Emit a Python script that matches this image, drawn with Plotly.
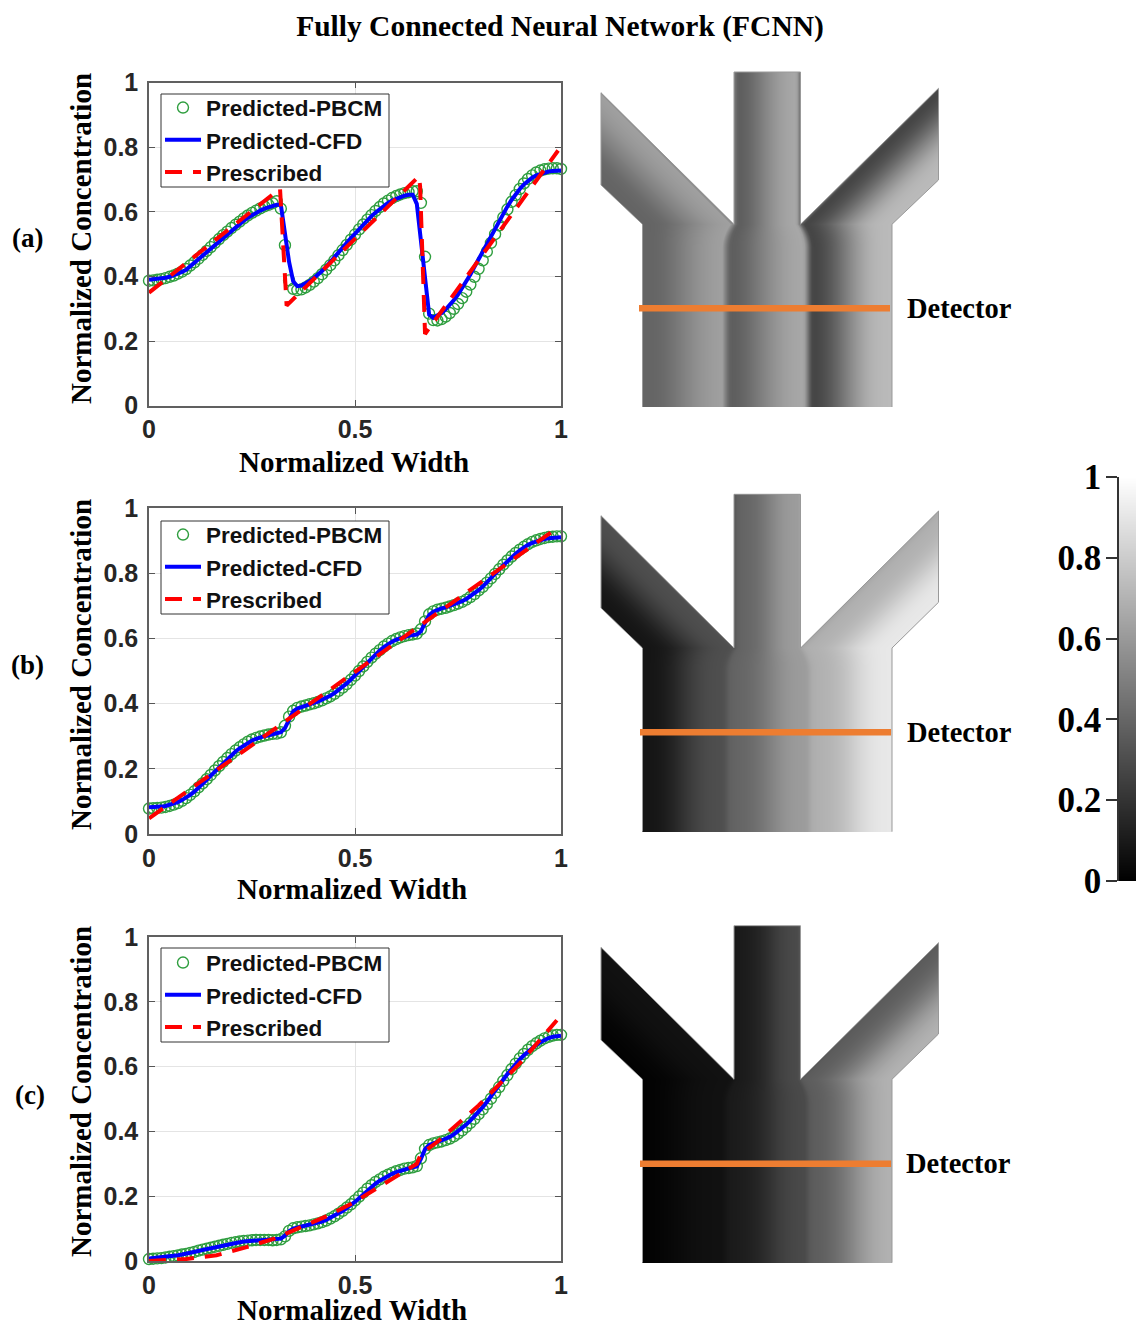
import numpy as np
import plotly.graph_objects as go

FIG_W, FIG_H = 1136, 1328
TITLE = "Fully Connected Neural Network (FCNN)"
PANEL_NAMES = ["(a)", "(b)", "(c)"]
SERIES_NAMES = ["Predicted-PBCM", "Predicted-CFD", "Prescribed"]
X_TITLE = "Normalized Width"
Y_TITLE = "Normalized Concentration"
Y_TICKS = [0, 0.2, 0.4, 0.6, 0.8, 1]
X_TICKS = [0, 0.5, 1]
CBAR_TICKS = [0, 0.2, 0.4, 0.6, 0.8, 1]

WIDTH = [i / 100 for i in range(101)]

CFD_A = [.390,.391,.392,.394,.396,.399,.403,.408,.414,.421,
         .432,.441,.451,.462,.473,.485,.497,.509,.521,.532,
         .543,.553,.563,.573,.582,.590,.597,.604,.610,.615,
         .619,.622,.622,.530,.445,.385,.370,.372,.378,.386,
         .395,.405,.417,.430,.444,.459,.474,.489,.504,.519,
         .533,.547,.561,.574,.587,.598,.609,.619,.628,.635,
         .641,.646,.650,.653,.653,.625,.510,.375,.282,.272,
         .278,.287,.298,.311,.327,.344,.363,.384,.406,.430,
         .454,.478,.503,.527,.551,.574,.596,.617,.637,.655,
         .671,.685,.697,.706,.713,.718,.722,.725,.727,.728,.728]
PBCM_A = [.387,.388,.390,.392,.395,.399,.403,.409,.415,.423,
          .434,.444,.455,.467,.479,.491,.504,.516,.528,.539,
          .550,.560,.570,.580,.589,.597,.604,.611,.617,.622,
          .627,.633,.610,.497,.388,.362,.358,.360,.366,.374,
          .384,.395,.407,.421,.435,.450,.466,.482,.498,.514,
          .530,.546,.561,.576,.590,.603,.615,.626,.635,.643,
          .649,.654,.658,.661,.664,.664,.628,.461,.285,.265,
          .264,.268,.276,.287,.300,.315,.333,.353,.375,.399,
          .424,.450,.477,.504,.531,.558,.583,.608,.631,.652,
          .671,.688,.702,.713,.722,.728,.732,.734,.735,.735,.733]
PRESC_X_A = [0, .318, .334, .655, .658, .670, .993]
PRESC_Y_A = [.35, .672, .31, .71, .68, .222, .79]

CFD_B = [.082,.082,.083,.084,.086,.089,.093,.098,.104,.111,
         .120,.130,.141,.153,.166,.179,.192,.205,.218,.230,
         .242,.253,.263,.272,.280,.287,.292,.297,.300,.303,
         .305,.307,.312,.325,.352,.376,.385,.390,.394,.398,
         .402,.406,.411,.417,.424,.432,.441,.451,.462,.474,
         .487,.500,.514,.527,.540,.552,.563,.573,.582,.590,
         .596,.601,.605,.608,.610,.612,.622,.648,.672,.682,
         .688,.692,.695,.699,.703,.708,.714,.721,.729,.738,
         .748,.759,.771,.784,.797,.811,.824,.837,.849,.860,
         .870,.879,.887,.893,.898,.902,.905,.907,.908,.909,.910]
PBCM_B = [.078,.079,.080,.081,.083,.086,.090,.095,.102,.110,
          .120,.131,.143,.155,.168,.181,.195,.208,.221,.233,
          .245,.256,.266,.275,.283,.290,.295,.299,.302,.305,
          .307,.308,.312,.332,.360,.378,.387,.391,.394,.398,
          .401,.405,.410,.416,.422,.430,.439,.449,.460,.473,
          .486,.500,.514,.528,.541,.553,.564,.575,.584,.592,
          .598,.603,.607,.610,.612,.615,.628,.652,.674,.683,
          .688,.691,.694,.698,.702,.707,.712,.719,.727,.736,
          .747,.758,.771,.784,.798,.812,.826,.839,.851,.862,
          .872,.881,.889,.896,.901,.905,.908,.911,.912,.913,.913]
PRESC_X_B = [0, .33, .66, .99]
PRESC_Y_B = [.048, .345, .641, .938]

CFD_C = [.008,.009,.010,.011,.012,.014,.016,.018,.020,.022,
         .025,.028,.031,.034,.037,.040,.043,.046,.049,.052,
         .054,.056,.058,.060,.061,.062,.063,.064,.065,.065,
         .066,.067,.069,.078,.092,.100,.103,.105,.108,.111,
         .114,.118,.122,.127,.133,.139,.146,.154,.163,.172,
         .183,.194,.206,.218,.229,.239,.248,.256,.263,.269,
         .274,.279,.283,.286,.289,.292,.315,.345,.358,.364,
         .368,.372,.377,.383,.391,.400,.410,.421,.433,.446,
         .460,.475,.491,.507,.524,.542,.560,.577,.593,.608,
         .622,.635,.647,.658,.667,.675,.682,.688,.692,.695,.695]
PBCM_C = [.006,.007,.008,.009,.011,.013,.015,.017,.020,.022,
          .025,.028,.032,.035,.038,.041,.044,.047,.050,.053,
          .056,.058,.060,.062,.063,.064,.065,.065,.065,.065,
          .064,.065,.067,.076,.093,.101,.104,.106,.108,.110,
          .113,.116,.120,.125,.131,.138,.146,.155,.165,.175,
          .187,.199,.211,.223,.234,.244,.252,.260,.266,.272,
          .277,.281,.285,.287,.289,.293,.317,.346,.358,.363,
          .366,.369,.373,.378,.385,.393,.403,.414,.426,.439,
          .453,.468,.484,.501,.519,.537,.556,.574,.592,.609,
          .625,.639,.652,.663,.672,.680,.687,.692,.696,.698,.698]
PRESC_X_C = [0, .09, .164, .237, .306, .374, .443, .5, .65, .66, .7, .8, .9, .99]
PRESC_Y_C = [0, .006, .018, .043, .07, .106, .145, .183, .30, .33, .368, .48, .61, .743]

for s in (CFD_A, PBCM_A, CFD_B, PBCM_B, CFD_C, PBCM_C):
    assert len(s) == 101

# ---------- layout constants (pixels) ----------
SERIF = "Liberation Serif"
SANS = "Liberation Sans"
AX_X0, AX_X1 = 149, 561
AX_Y = [(82.7, 405.7), (508, 834), (937, 1261)]
X_TITLE_POS = [(354, 462), (352, 889), (352, 1310)]
Y_TITLE_POS = [(81, 239), (81, 665), (81, 1092)]
LEGEND_TOP = [86.4, 513.4, 941.4]
LEGEND_BOX = [(94, 187), (521, 614), (948, 1042)]
LEGEND_X0, LEGEND_X1 = 161, 389
LABEL_POS = [(27, 238), (27, 665), (30, 1095)]

DX_L, DX_ML, DX_CL, DX_CR, DX_MR, DX_R = 601, 642.5, 734, 800.5, 892, 938.5
# center top, left-top, left-low, junction, right-top, right-low, bottom, detector
DEVICE_Y = [(72, 92.7, 185, 224.3, 88.3, 180, 407, 308.3),
            (494.3, 515.7, 608, 648, 511, 602.3, 831.7, 732.3),
            (925.7, 947.3, 1040, 1079.3, 942.7, 1034, 1262.7, 1163.7)]
DETECTOR_TEXT_X = [904.5, 904.5, 903.5]
DETECTOR_X = [(639, 890), (640, 891), (640, 891)]


def in_polygon(px, py, vx, vy):
    inside = np.zeros(px.shape, dtype=bool)
    n = len(vx)
    for i in range(n):
        x0, y0, x1, y1 = vx[i], vy[i], vx[(i + 1) % n], vy[(i + 1) % n]
        if y0 == y1:
            continue
        crosses = (y0 > py) != (y1 > py)
        xc = x0 + (py - y0) * (x1 - x0) / (y1 - y0)
        inside ^= crosses & (px < xc)
    return inside


def device_field(curve, ys):
    ct, lt, ll, j, rt, rl, bot, _ = ys
    vx = [DX_L, DX_CL, DX_CL, DX_CR, DX_CR, DX_R, DX_R, DX_MR, DX_MR, DX_ML, DX_ML, DX_L]
    vy = [lt, j, ct, ct, j, rt, rl, j, bot, bot, j, ll]
    gx = np.arange(595.5, 945, 1.0)
    gy = np.arange(np.floor(ct) - 1.5, bot + 2, 1.0)
    X, Y = np.meshgrid(gx, gy)
    mask = in_polygon(X, Y, vx, vy)

    s = np.full(X.shape, np.nan)
    up = Y < j
    left = up & (X < DX_CL)
    right = up & (X > DX_CR)
    centre = up & ~left & ~right
    s[left] = np.clip((X[left] - (Y[left] - j) - DX_ML) / (DX_CL - DX_ML), 0, 1) / 3
    s[right] = 2 / 3 + np.clip((X[right] + (Y[right] - j) - DX_CR) / (DX_MR - DX_CR), 0, 1) / 3
    s[centre] = 1 / 3 + (X[centre] - DX_CL) / (DX_CR - DX_CL) / 3
    w = DX_MR - DX_ML
    open_frac = np.clip((Y - j) / 24, 0, 1)
    blend = (1 - open_frac) ** 2
    xl = (DX_ML + w / 3) + (DX_CL - (DX_ML + w / 3)) * blend
    xr = (DX_ML + 2 * w / 3) + (DX_CR - (DX_ML + 2 * w / 3)) * blend
    down = ~up
    a = down & (X < xl)
    b = down & (X >= xl) & (X < xr)
    c = down & (X >= xr)
    s[a] = (X[a] - DX_ML) / (xl[a] - DX_ML) / 3
    s[b] = 1 / 3 + (X[b] - xl[b]) / (xr[b] - xl[b]) / 3
    s[c] = 2 / 3 + (X[c] - xr[c]) / (DX_MR - xr[c]) / 3
    z = np.interp(np.clip(s, 0, 1), WIDTH, curve)
    z[~mask] = np.nan
    return gx, gy, z, vx, vy


fig = go.Figure()
panels = [(PBCM_A, CFD_A, PRESC_X_A, PRESC_Y_A),
          (PBCM_B, CFD_B, PRESC_X_B, PRESC_Y_B),
          (PBCM_C, CFD_C, PRESC_X_C, PRESC_Y_C)]
GRAY = [[0, "#000000"], [1, "#ffffff"]]
axis_font = dict(family=SERIF, size=29, color="#000000", weight=700)
tick_font = dict(family=SANS, size=25, color="#262626", weight=700)
layout = {}
annotations = []
shapes = []

for i, (pbcm, cfd, px_, py_) in enumerate(panels):
    n = "" if i == 0 else str(i + 1)
    leg = "legend" + n
    xa, ya = "x" + n, "y" + n
    fig.add_trace(go.Scatter(x=WIDTH, y=pbcm, mode="markers", name=SERIES_NAMES[0], legend=leg,
                             marker=dict(symbol="circle-open", size=11, color="#2f9e3f", line=dict(width=1.4)),
                             cliponaxis=False, xaxis=xa, yaxis=ya))
    fig.add_trace(go.Scatter(x=WIDTH, y=cfd, mode="lines", name=SERIES_NAMES[1], legend=leg,
                             line=dict(color="#0000ff", width=4), cliponaxis=False, xaxis=xa, yaxis=ya))
    fig.add_trace(go.Scatter(x=px_, y=py_, mode="lines", name=SERIES_NAMES[2], legend=leg,
                             line=dict(color="#ff0000", width=4, dash="17px,11px"), cliponaxis=False,
                             xaxis=xa, yaxis=ya))
    top, bot = AX_Y[i]
    layout["xaxis" + n] = dict(domain=[AX_X0 / FIG_W, AX_X1 / FIG_W], range=[0, 1], anchor=ya,
                               tickvals=X_TICKS, ticktext=["0", "0.5", "1"], ticks="inside", ticklen=6,
                               tickcolor="#555555", showline=True, linecolor="#606060", linewidth=1.5, mirror="ticks",
                               showgrid=True, gridcolor="#e4e4e4", gridwidth=1, zeroline=False,
                               tickfont=tick_font, ticklabelstandoff=1)
    layout["yaxis" + n] = dict(domain=[1 - bot / FIG_H, 1 - top / FIG_H], range=[0, 1], anchor=xa,
                               tickvals=Y_TICKS, ticktext=["0", "0.2", "0.4", "0.6", "0.8", "1"], ticks="inside", ticklen=6,
                               tickcolor="#555555", showline=True, linecolor="#606060", linewidth=1.5, mirror="ticks",
                               showgrid=True, gridcolor="#e4e4e4", gridwidth=1, zeroline=False,
                               tickfont=tick_font, ticklabelstandoff=4)
    tx, ty = X_TITLE_POS[i]
    annotations.append(dict(text=X_TITLE, x=tx / FIG_W, y=1 - ty / FIG_H, xref="paper", yref="paper",
                            xanchor="center", yanchor="middle", showarrow=False, font=axis_font))
    tx, ty = Y_TITLE_POS[i]
    annotations.append(dict(text=Y_TITLE, x=tx / FIG_W, y=1 - ty / FIG_H, xref="paper", yref="paper",
                            xanchor="center", yanchor="middle", showarrow=False, textangle=-90, font=axis_font))
    layout[leg] = dict(x=160 / FIG_W, y=1 - LEGEND_TOP[i] / FIG_H, xanchor="left", yanchor="top",
                       xref="paper", yref="paper", bgcolor="rgba(0,0,0,0)", borderwidth=0, itemwidth=36,
                       font=dict(family=SANS, size=22.5, color="#111111", weight=700), tracegroupgap=0,
                       traceorder="normal")
    by0, by1 = LEGEND_BOX[i]
    shapes.append(dict(type="rect", xref="paper", yref="paper", layer="above",
                       x0=LEGEND_X0 / FIG_W, x1=LEGEND_X1 / FIG_W, y0=1 - by1 / FIG_H, y1=1 - by0 / FIG_H,
                       fillcolor="#ffffff", line=dict(color="#333333", width=1)))
    lbx, lby = LABEL_POS[i]
    annotations.append(dict(text=PANEL_NAMES[i], x=lbx / FIG_W, y=1 - lby / FIG_H, xref="paper", yref="paper",
                            xanchor="center", yanchor="middle", showarrow=False,
                            font=dict(family=SERIF, size=27, color="#000000", weight=700)))

for i, curve in enumerate((CFD_A, CFD_B, CFD_C)):
    ys = DEVICE_Y[i]
    gx, gy, z, vx, vy = device_field(curve, ys)
    fig.add_trace(go.Heatmap(x=gx, y=gy, z=z, colorscale=GRAY, zmin=0, zmax=1, showscale=False,
                             xaxis="x4", yaxis="y4", showlegend=False, hoverongaps=False))
    fig.add_trace(go.Scatter(x=vx[:9] + [None] + vx[9:] + vx[:1], y=vy[:9] + [None] + vy[9:] + vy[:1],
                             mode="lines", line=dict(color="#999999", width=1),
                             showlegend=False, xaxis="x4", yaxis="y4"))
    d0, d1 = DETECTOR_X[i]
    fig.add_trace(go.Scatter(x=[d0, d1], y=[ys[7], ys[7]], mode="lines", line=dict(color="#ed7d31", width=6.5),
                             showlegend=False, xaxis="x4", yaxis="y4"))
    annotations.append(dict(text="Detector", x=DETECTOR_TEXT_X[i], y=ys[7], xref="x4", yref="y4",
                            xanchor="left", yanchor="middle", showarrow=False,
                            font=dict(family=SERIF, size=28.5, color="#000000", weight=700)))

layout["xaxis4"] = dict(domain=[590 / FIG_W, 1030 / FIG_W], range=[590, 1030], visible=False, anchor="y4")
layout["yaxis4"] = dict(domain=[0, 1], range=[FIG_H, 0], visible=False, anchor="x4")

cb_levels = [i / 255 for i in range(256)]
fig.add_trace(go.Heatmap(x=[0, 1], y=cb_levels, z=[[v, v] for v in cb_levels], colorscale=GRAY, zmin=0, zmax=1,
                         showscale=False, xaxis="x5", yaxis="y5"))
layout["xaxis5"] = dict(domain=[1119 / FIG_W, 1], range=[0, 1], visible=False, anchor="y5")
layout["yaxis5"] = dict(domain=[1 - 881 / FIG_H, 1 - 477 / FIG_H], range=[0, 1], anchor="x5", side="left",
                        tickvals=CBAR_TICKS, ticktext=["0", "0.2", "0.4", "0.6", "0.8", "1"], ticks="outside", ticklen=11,
                        tickcolor="#333333", tickwidth=1.5, showline=True, linecolor="#333333", linewidth=1.5,
                        showgrid=False, zeroline=False, ticklabelstandoff=-2,
                        tickfont=dict(family=SERIF, size=35, color="#000000", weight=700))

fig.update_layout(
    width=FIG_W, height=FIG_H, autosize=False,
    margin=dict(l=0, r=0, t=0, b=0, autoexpand=False),
    paper_bgcolor="#ffffff", plot_bgcolor="rgba(0,0,0,0)",
    title=dict(text=TITLE, x=560 / FIG_W, y=1 - 26 / FIG_H, xanchor="center", yanchor="middle",
               font=dict(family=SERIF, size=29.5, color="#000000", weight=700)),
    annotations=annotations, shapes=shapes, showlegend=True, **layout)
fig.write_html("out.html", config=dict(displayModeBar=False),
               post_script="document.body.style.margin='0';document.documentElement.style.overflow='hidden';")
